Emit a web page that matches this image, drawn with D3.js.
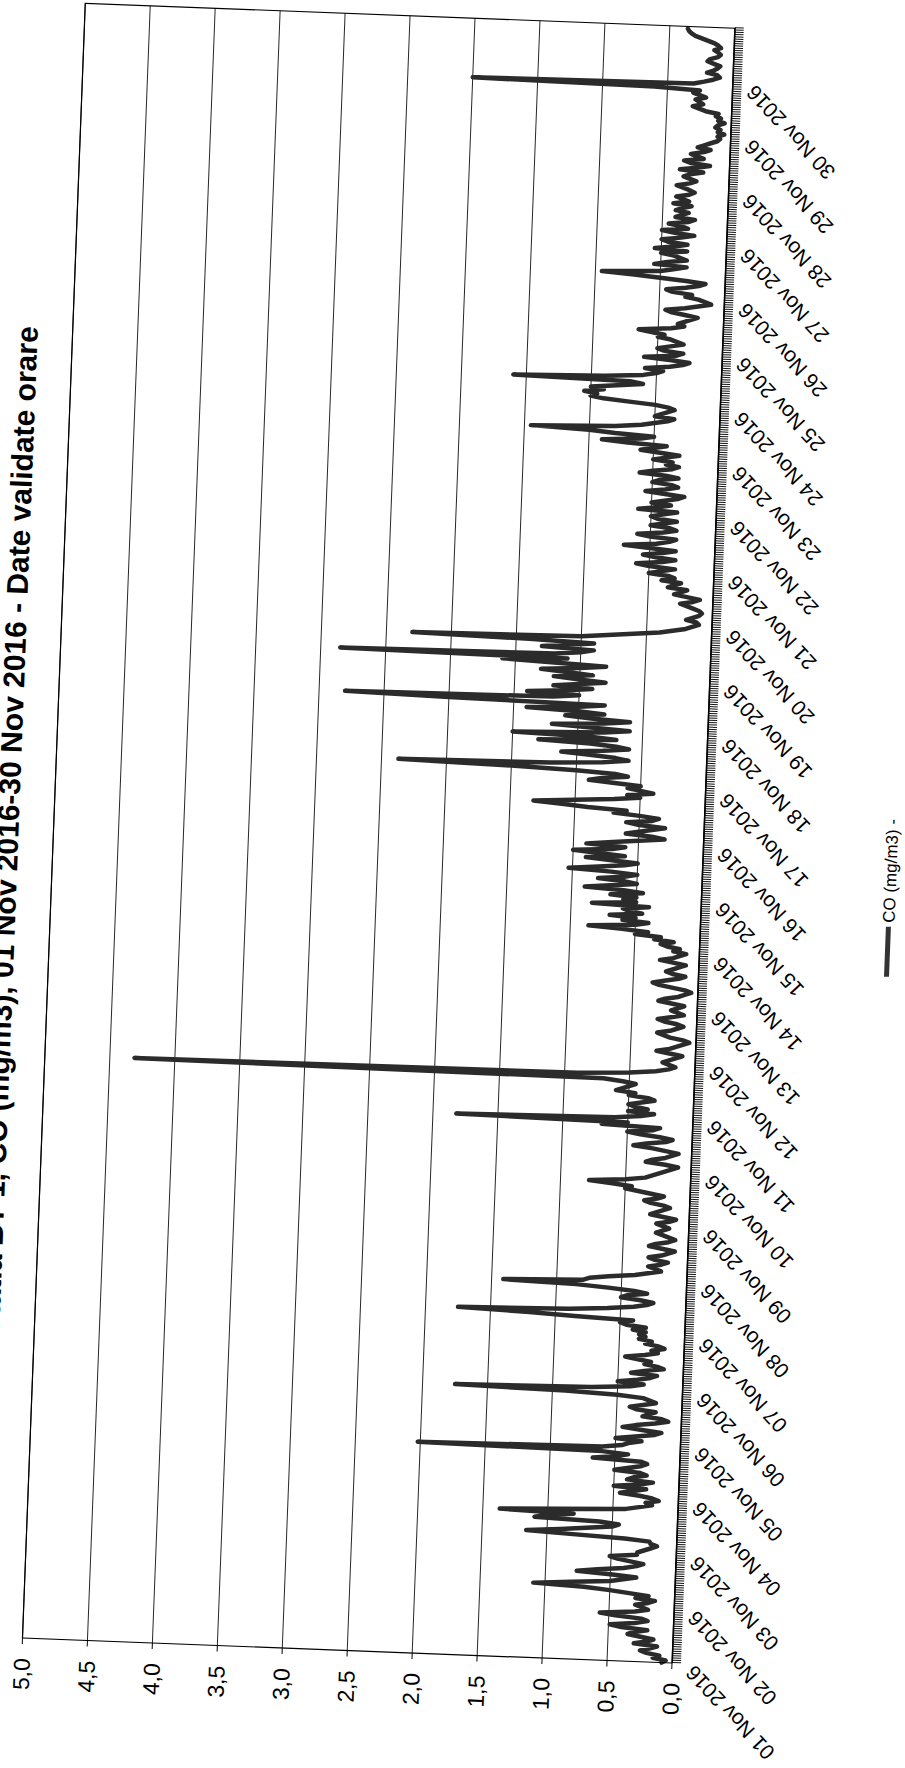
<!DOCTYPE html>
<html>
<head>
<meta charset="utf-8">
<script src="https://cdn.jsdelivr.net/npm/d3@7"></script>
<style>
  html, body { margin: 0; padding: 0; background: #fff; }
  svg { display: block; }
  .grid line { stroke: #111; stroke-width: 0.9; }
  .frame { fill: none; stroke: #000; stroke-width: 1.2; }
  .x-axis line { stroke: #111; stroke-width: 1; }
  .x-axis path { stroke: #000; }
  .series { fill: none; stroke: #2b2b2b; stroke-width: 4.5; stroke-linejoin: round; stroke-linecap: round; }
  .tick-label { font-family: "Liberation Sans", Arial, sans-serif; font-size: 23px; fill: #000; }
  .date-label { font-family: "Liberation Sans", Arial, sans-serif; font-size: 21px; fill: #000; }
  .title { font-family: "Liberation Sans", Arial, sans-serif; font-size: 30px; font-weight: bold; fill: #000; }
  .legend { font-family: "Liberation Sans", Arial, sans-serif; font-size: 17px; fill: #000; }
</style>
</head>
<body>
<svg id="chart"></svg>
<script>
const titleText = 'Statia BT-1, CO (mg/m3), 01 Nov 2016-30 Nov 2016 - Date validate orare';
const legendText = 'CO (mg/m3)  -';

const dayLabels = d3.range(1, 31).map((d) => `${String(d).padStart(2, '0')} Nov 2016`);
const yTickValues = [0, 0.5, 1, 1.5, 2, 2.5, 3, 3.5, 4, 4.5, 5];
const yTickLabels = ['0,0', '0,5', '1,0', '1,5', '2,0', '2,5', '3,0', '3,5', '4,0', '4,5', '5,0'];

// hourly CO values (mg/m3), one array per day
const d01 = [0.08,0.05,0.15,0.1,0.2,0.25,0.18,0.12,0.3,0.2,0.15,0.25,0.35,0.3,0.2,0.4,0.49,0.3,0.2,0.25,0.45,0.57,0.3,0.2];
const d02 = [0.25,0.3,0.2,0.15,0.3,0.2,0.35,0.5,0.7,1.09,0.8,0.5,0.4,0.3,0.5,0.76,0.6,0.4,0.3,0.25,0.35,0.45,0.51,0.3];
const d03 = [0.3,0.25,0.2,0.15,0.2,0.21,0.4,0.8,1.16,0.9,0.7,0.5,0.45,0.6,1.1,1.0,0.8,1.37,0.9,0.4,0.3,0.2,0.25,0.15];
const d04 = [0.2,0.3,0.45,0.35,0.25,0.5,0.3,0.2,0.4,0.35,0.25,0.3,0.5,0.4,0.3,0.25,0.3,0.67,0.5,0.4,0.6,2.02,0.6,0.45];
const d05 = [0.4,0.3,0.5,0.35,0.2,0.15,0.3,0.45,0.35,0.2,0.1,0.15,0.3,0.25,0.2,0.35,0.4,0.3,0.2,0.25,0.3,0.5,0.9,1.75];
const d06 = [0.7,0.4,0.3,0.5,0.35,0.25,0.2,0.4,0.3,0.15,0.2,0.3,0.25,0.35,0.45,0.3,0.2,0.25,0.15,0.2,0.3,0.25,0.35,0.3];
const d07 = [0.35,0.3,0.4,0.3,0.45,0.5,0.4,0.85,1.2,1.75,0.9,0.6,0.4,0.3,0.25,0.35,0.5,0.45,0.3,0.4,0.6,0.85,1.41,0.8];
const d08 = [0.75,0.6,0.4,0.3,0.2,0.25,0.3,0.2,0.15,0.25,0.3,0.2,0.15,0.1,0.2,0.3,0.25,0.15,0.1,0.15,0.2,0.25,0.2,0.15];
const d09 = [0.2,0.25,0.15,0.1,0.2,0.3,0.25,0.2,0.15,0.2,0.3,0.35,0.25,0.2,0.3,0.4,0.5,0.45,0.6,0.78,0.5,0.35,0.3,0.25];
const d10 = [0.2,0.15,0.1,0.2,0.35,0.3,0.2,0.15,0.1,0.2,0.3,0.45,0.35,0.2,0.15,0.25,0.4,0.5,0.3,0.25,0.7,0.5,1.82,0.6];
const d11 = [0.4,0.3,0.5,0.35,0.45,0.5,0.4,0.3,0.35,0.5,0.45,0.6,0.55,0.5,0.45,0.55,0.7,4.31,0.9,0.5,0.3,0.2,0.15,0.2];
const d12 = [0.25,0.2,0.15,0.1,0.2,0.3,0.2,0.15,0.1,0.05,0.1,0.2,0.25,0.3,0.2,0.15,0.1,0.15,0.25,0.3,0.2,0.1,0.15,0.2];
const d13 = [0.15,0.1,0.2,0.3,0.25,0.15,0.1,0.05,0.1,0.2,0.3,0.35,0.25,0.15,0.1,0.2,0.25,0.2,0.15,0.1,0.2,0.3,0.2,0.15];
const d14 = [0.1,0.2,0.15,0.25,0.3,0.2,0.35,0.3,0.5,0.4,0.6,0.86,0.5,0.4,0.6,0.5,0.7,0.45,0.55,0.6,0.4,0.84,0.5,0.6];
const d15 = [0.5,0.7,0.45,0.6,0.9,0.7,0.5,0.6,0.8,0.6,0.5,0.7,1.03,0.8,0.6,0.5,0.7,0.9,0.6,0.8,1.0,0.7,0.6,0.9];
const d16 = [0.7,0.5,0.3,0.4,0.6,0.5,0.4,0.3,0.5,0.6,0.4,0.35,0.5,0.7,0.6,0.9,1.1,1.32,1.0,0.7,0.5,0.6,0.4,0.5];
const d17 = [0.6,0.5,0.7,0.9,0.8,0.6,0.7,1.0,1.5,2.37,1.2,0.8,0.6,0.7,0.9,1.12,0.8,0.6,0.7,0.9,1.3,0.7,0.9,1.5];
const d18 = [0.8,0.6,0.9,1.2,0.8,0.6,0.9,1.1,0.8,1.0,1.4,1.0,0.8,2.0,2.8,1.2,1.0,1.4,1.1,0.9,1.2,1.0,0.8,1.0];
const d19 = [1.2,0.9,1.1,1.3,1.0,0.8,1.2,1.6,1.1,2.85,1.2,1.0,0.9,1.3,1.1,0.9,1.4,2.3,1.0,0.8,0.6,0.4,0.3,0.2];
const d20 = [0.15,0.1,0.12,0.2,0.15,0.1,0.08,0.1,0.15,0.2,0.25,0.15,0.1,0.2,0.3,0.25,0.2,0.35,0.3,0.25,0.4,0.3,0.35,0.5];
const d21 = [0.4,0.3,0.5,0.6,0.4,0.3,0.45,0.55,0.4,0.3,0.5,0.7,0.45,0.35,0.3,0.5,0.6,0.4,0.3,0.35,0.5,0.4,0.3,0.45];
const d22 = [0.5,0.4,0.3,0.6,0.45,0.35,0.5,0.4,0.3,0.25,0.4,0.55,0.4,0.3,0.35,0.5,0.45,0.3,0.4,0.6,0.5,0.35,0.3,0.4];
const d23 = [0.35,0.5,0.4,0.3,0.45,0.6,0.5,0.4,0.7,0.9,0.6,0.5,0.8,1.0,1.45,0.8,0.6,0.5,0.4,0.35,0.5,0.45,0.4,0.35];
const d24 = [0.4,0.5,0.7,0.9,1.0,0.95,1.05,0.9,1.0,0.8,0.6,0.7,1.6,0.9,0.6,0.5,0.45,0.59,0.4,0.3,0.25,0.4,0.6,0.35];
const d25 = [0.3,0.45,0.5,0.4,0.3,0.35,0.4,0.5,0.45,0.55,0.65,0.4,0.3,0.35,0.3,0.25,0.2,0.3,0.4,0.45,0.3,0.2,0.1,0.15];
const d26 = [0.2,0.3,0.25,0.4,0.45,0.3,0.2,0.15,0.3,0.5,0.7,0.95,0.5,0.4,0.3,0.55,0.45,0.3,0.35,0.4,0.5,0.3,0.55,0.4];
const d27 = [0.3,0.45,0.5,0.35,0.25,0.4,0.5,0.3,0.35,0.45,0.3,0.25,0.4,0.35,0.3,0.4,0.35,0.28,0.42,0.3,0.35,0.4,0.3,0.26];
const d28 = [0.3,0.35,0.4,0.3,0.25,0.3,0.35,0.3,0.2,0.38,0.25,0.15,0.3,0.35,0.2,0.25,0.3,0.2,0.15,0.25,0.2,0.15,0.1,0.08];
const d29 = [0.1,0.05,0.1,0.08,0.12,0.1,0.05,0.1,0.08,0.12,0.1,0.2,0.25,0.3,0.22,0.25,0.28,0.2,0.25,0.3,0.25,0.6,2.0,0.3];
const d30 = [0.22,0.15,0.1,0.12,0.2,0.15,0.12,0.1,0.15,0.2,0.18,0.12,0.1,0.12,0.15,0.1,0.12,0.15,0.2,0.25,0.3,0.33,0.35,0.36];

const coValues = [].concat(d01, d02, d03, d04, d05, d06, d07, d08, d09, d10, d11, d12, d13, d14, d15,
  d16, d17, d18, d19, d20, d21, d22, d23, d24, d25, d26, d27, d28, d29, d30);

const width = 905;
const height = 1768;
// the scanned page is turned a quarter turn and slightly skewed
const origin = { x: 672, y: 1663 };
const angle = -87.8;
const plotW = 1636;
const plotH = 650;

const svg = d3.select('#chart').attr('width', width).attr('height', height);
svg.append('rect').attr('width', width).attr('height', height).attr('fill', '#fff');

const g = svg.append('g').attr('transform', `translate(${origin.x}, ${origin.y}) rotate(${angle})`);

const xScale = d3.scaleLinear().domain([0, coValues.length]).range([0, plotW]);
const yScale = d3.scaleLinear().domain([0, 5]).range([0, -plotH]);

const grid = g.append('g').attr('class', 'grid');
grid.selectAll('line')
  .data(yTickValues)
  .join('line')
  .attr('x1', 0)
  .attr('x2', plotW)
  .attr('y1', (d) => yScale(d))
  .attr('y2', (d) => yScale(d));

// y tick labels (sit left of the value axis, with a gap)
g.append('g')
  .selectAll('text')
  .data(yTickValues)
  .join('text')
  .attr('class', 'tick-label')
  .attr('x', -20)
  .attr('y', (d) => yScale(d))
  .attr('dy', '0.36em')
  .attr('text-anchor', 'end')
  .text((d, i) => yTickLabels[i]);

// small ticks at the value axis
g.append('g')
  .selectAll('line')
  .data(yTickValues)
  .join('line')
  .attr('x1', -6)
  .attr('x2', 0)
  .attr('y1', (d) => yScale(d))
  .attr('y2', (d) => yScale(d))
  .attr('stroke', '#000')
  .attr('stroke-width', 1);

// hourly minor ticks along the time axis
const xAxis = d3.axisBottom(xScale)
  .tickValues(d3.range(0, coValues.length + 1))
  .tickSize(9)
  .tickSizeOuter(0)
  .tickFormat('');
g.append('g').attr('class', 'x-axis').call(xAxis);

g.append('g')
  .selectAll('text')
  .data(dayLabels)
  .join('text')
  .attr('class', 'date-label')
  .attr('text-anchor', 'end')
  .attr('transform', (d, i) => `translate(${xScale(i * 24)}, 23) rotate(-45)`)
  .text((d) => d);

const line = d3.line()
  .x((d, i) => xScale(i))
  .y((d) => yScale(d));

g.append('path').datum(coValues).attr('class', 'series').attr('d', line);

g.append('rect').attr('class', 'frame').attr('x', 0).attr('y', -plotH).attr('width', plotW).attr('height', plotH);

g.append('text')
  .attr('class', 'title')
  .attr('x', 1311)
  .attr('y', -685)
  .attr('text-anchor', 'end')
  .text(titleText);

const legend = g.append('g').attr('transform', 'translate(694, 188)');
legend.append('line').attr('x1', 0).attr('x2', 50).attr('y1', 0).attr('y2', 0).attr('stroke', '#333').attr('stroke-width', 5);
legend.append('text').attr('class', 'legend').attr('x', 54).attr('y', 0).attr('dy', '0.35em').text(legendText);
</script>
</body>
</html>
